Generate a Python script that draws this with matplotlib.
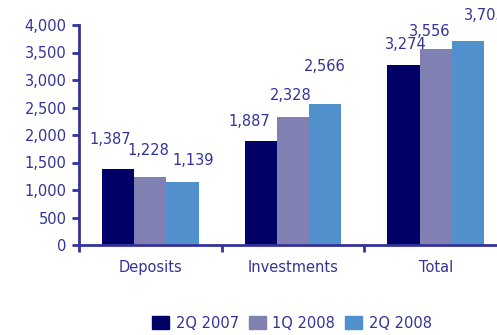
import matplotlib
matplotlib.use("Agg")
import matplotlib.pyplot as plt
import numpy as np
from matplotlib.ticker import FuncFormatter, FixedLocator
from matplotlib.patches import Patch

categories = ["Deposits", "Investments", "Total"]
series_names = ["2Q 2007", "1Q 2008", "2Q 2008"]
deposits = [1387, 1228, 1139]
investments = [1887, 2328, 2566]
total = [3274, 3556, 3705]
yticks = [0, 500, 1000, 1500, 2000, 2500, 3000, 3500, 4000]

colors = ["#000066", "#8080b3", "#5091cd"]
text_color = "#333399"
# label nudges (pixels) for each series / category
label_dx = [[-8, -11, 2], [-2, -2, -6], [11, 0, 17]]
label_dy = [[29, 20, 20], [27, 21, 18], [22, 37, 26]]

values = np.array([deposits, investments, total])  # rows: category

plt.rcParams["font.family"] = ["DejaVu Sans"]
fig = plt.figure(figsize=(4.97, 3.35), dpi=100)
ax = fig.add_axes([79 / 497, 90 / 335, 428 / 497, 220 / 335])

x = np.arange(len(categories))
width = 0.226
for i, name in enumerate(series_names):
    pos = x + (i - 1) * width
    bars = ax.bar(pos, values[:, i], width, color=colors[i], label=name, zorder=2)
    for j, b in enumerate(bars):
        v = values[j, i]
        ax.annotate(f"{v:,}", (b.get_x() + b.get_width() / 2, v),
                    xytext=(label_dx[i][j] * 0.72, label_dy[i][j] * 0.72),
                    textcoords="offset points", ha="center", va="center",
                    color=text_color, fontsize=10.5)

ax.set_xlim(-0.5, 2.5)
ax.set_ylim(0, 4000)
ax.set_yticks(yticks)
ax.yaxis.set_major_formatter(FuncFormatter(lambda v, p: f"{int(v):,}"))
ax.set_xticks(x)
ax.set_xticklabels(categories)
ax.xaxis.set_minor_locator(FixedLocator([-0.5, 0.5, 1.5, 2.5]))

for s in ["top", "right"]:
    ax.spines[s].set_visible(False)
for s in ["left", "bottom"]:
    ax.spines[s].set_color(text_color)
    ax.spines[s].set_linewidth(2)

ax.tick_params(axis="y", colors=text_color, labelsize=10.5, length=5, width=2, pad=4)
ax.tick_params(axis="x", which="major", length=0, colors=text_color, labelsize=10.5, pad=11)
ax.tick_params(axis="x", which="minor", length=5, width=2, colors=text_color)

handles = [Patch(color=c, label=n) for c, n in zip(colors, series_names)]
leg = fig.legend(handles=handles, loc="center", bbox_to_anchor=(292 / 497, 12 / 335),
                 ncol=3, frameon=False, fontsize=10.5, handlelength=1.15, handleheight=1.0,
                 handletextpad=0.45, columnspacing=0.7)
for t in leg.get_texts():
    t.set_color(text_color)

fig.savefig("out.png", dpi=100)
